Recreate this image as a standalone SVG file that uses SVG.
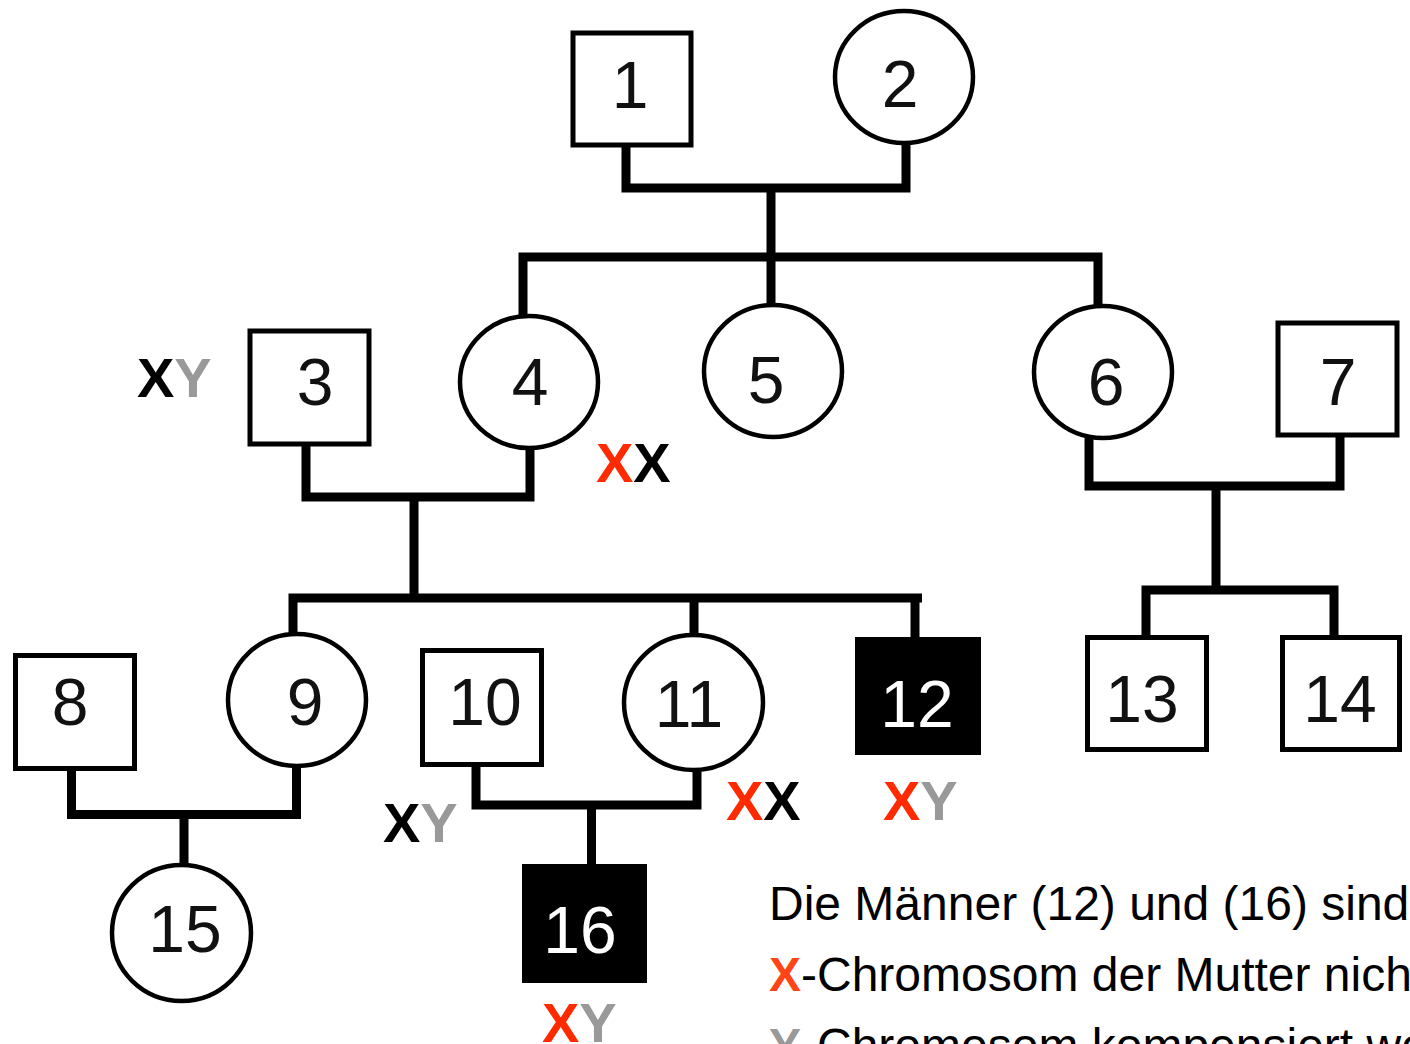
<svg xmlns="http://www.w3.org/2000/svg" width="1410" height="1044" viewBox="0 0 1410 1044">
<style>
.sq{fill:#fff;stroke:#000;stroke-width:5}
.aff{fill:#000;stroke:#000;stroke-width:2}
.ci{fill:#fff;stroke:#000;stroke-width:4.5}
.num{font-family:"Liberation Sans",Arial,sans-serif;font-size:66px;fill:#111;text-anchor:middle}
.wnum{fill:#fff}
.gen{font-family:"Liberation Sans",Arial,sans-serif;font-size:56px;font-weight:bold}
.r{fill:#ff2a00}
.k{fill:#000}
.g{fill:#999}
.con{fill:none;stroke:#000;stroke-width:9;stroke-linejoin:miter}
.txt{font-family:"Liberation Sans",Arial,sans-serif;font-size:48px;fill:#000}
.tr{fill:#ff4416;font-weight:bold}
.tg{fill:#999;font-weight:bold}
</style>
<rect width="1410" height="1044" fill="#fff"/>
<g id="connectors">
<polyline class="con" points="626,147 626,188 906,188 906,143"/>
<line class="con" x1="771" y1="188" x2="771" y2="257"/>
<polyline class="con" points="523,316 523,257 1098,257 1098,306"/>
<line class="con" x1="771" y1="257" x2="771" y2="303"/>
<polyline class="con" points="306,446 306,497 530,497 530,448"/>
<line class="con" x1="414" y1="497" x2="414" y2="598"/>
<polyline class="con" points="293,634 293,598 922,598"/>
<line class="con" x1="915" y1="598" x2="915" y2="638"/>
<line class="con" x1="694" y1="598" x2="694" y2="635"/>
<polyline class="con" points="1089,438 1089,486 1340,486 1340,435"/>
<line class="con" x1="1216" y1="486" x2="1216" y2="590"/>
<polyline class="con" points="1146,642 1146,590 1334,590 1334,637"/>
<polyline class="con" points="71.5,768 71.5,814.5 296.5,814.5 296.5,766"/>
<line class="con" x1="184" y1="814.5" x2="184" y2="867"/>
<polyline class="con" points="476,765 476,805 697,805 697,770"/>
<line class="con" x1="591.5" y1="805" x2="591.5" y2="864"/>
</g>
<g id="n1"><rect class="sq" x="573" y="33" width="118" height="112"/><text class="num" x="630" y="108">1</text></g>
<g id="n2"><ellipse class="ci" cx="904" cy="77" rx="69" ry="66"/><text class="num" x="900" y="107">2</text></g>
<g id="n3"><rect class="sq" x="250" y="331" width="119" height="113"/><text class="num" x="315" y="405">3</text></g>
<g id="n4"><ellipse class="ci" cx="529" cy="382" rx="69" ry="66"/><text class="num" x="530" y="405">4</text></g>
<g id="n5"><ellipse class="ci" cx="773" cy="371" rx="69" ry="66"/><text class="num" x="766" y="403">5</text></g>
<g id="n6"><ellipse class="ci" cx="1103" cy="372" rx="69" ry="66"/><text class="num" x="1106" y="405">6</text></g>
<g id="n7"><rect class="sq" x="1278" y="323" width="119" height="112"/><text class="num" x="1338" y="405">7</text></g>
<g id="n8"><rect class="sq" x="15.5" y="655.5" width="119" height="113"/><text class="num" x="70" y="725">8</text></g>
<g id="n9"><ellipse class="ci" cx="297" cy="700" rx="69" ry="66"/><text class="num" x="305" y="725">9</text></g>
<g id="n10"><rect class="sq" x="422.5" y="650.5" width="119" height="114"/><text class="num" x="485" y="725">10</text></g>
<g id="n11"><ellipse class="ci" cx="693.5" cy="702.5" rx="69.5" ry="67.5"/><text class="num" x="689" y="727">11</text></g>
<g id="n12"><rect class="aff" x="856" y="638" width="124" height="116"/><text class="num wnum" x="917" y="727">12</text></g>
<g id="n13"><rect class="sq" x="1087.5" y="637.5" width="119" height="112"/><text class="num" x="1142" y="722">13</text></g>
<g id="n14"><rect class="sq" x="1282.5" y="637.5" width="117" height="112"/><text class="num" x="1340" y="722">14</text></g>
<g id="n15"><ellipse class="ci" cx="181.5" cy="933" rx="69.5" ry="68"/><text class="num" x="185" y="952">15</text></g>
<g id="n16"><rect class="aff" x="523" y="865" width="123" height="117"/><text class="num wnum" x="580" y="953">16</text></g>
<g id="genotypes">
<text class="gen" x="137" y="397"><tspan class="k">X</tspan><tspan class="g">Y</tspan></text>
<text class="gen" x="596" y="482"><tspan class="r">X</tspan><tspan class="k">X</tspan></text>
<text class="gen" x="383" y="842"><tspan class="k">X</tspan><tspan class="g">Y</tspan></text>
<text class="gen" x="726" y="820"><tspan class="r">X</tspan><tspan class="k">X</tspan></text>
<text class="gen" x="883" y="820"><tspan class="r">X</tspan><tspan class="g">Y</tspan></text>
<text class="gen" x="542" y="1042"><tspan class="r">X</tspan><tspan class="g">Y</tspan></text>
</g>
<g id="caption">
<text class="txt" x="769" y="920">Die Männer (12) und (16) sind</text>
<text class="txt" x="769" y="991"><tspan class="tr">X</tspan>-Chromosom der Mutter nich</text>
<text class="txt" x="769" y="1062"><tspan class="tg">Y</tspan>-Chromosom kompensiert we</text>
</g>
</svg>
